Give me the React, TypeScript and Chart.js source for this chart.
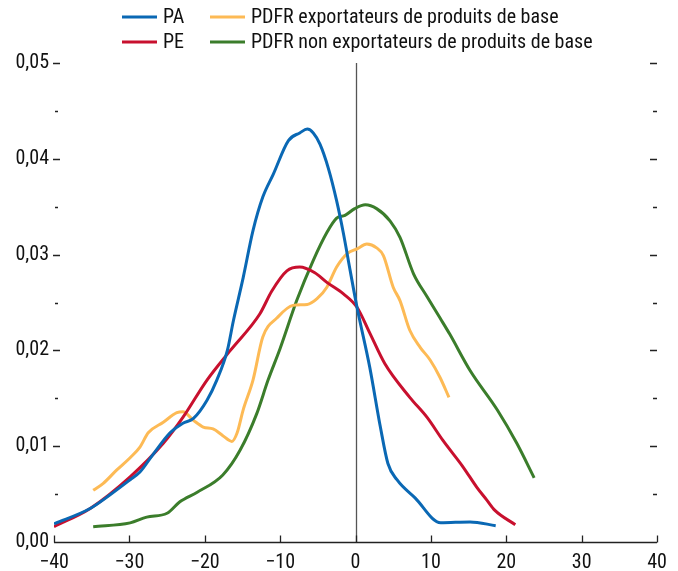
import React, { useEffect, useRef } from 'react';
import { Chart, registerables } from 'chart.js';

Chart.register(...registerables);

// ---- Data ----
const seriesLabels = ['PA', 'PE', 'PDFR exportateurs de produits de base', 'PDFR non exportateurs de produits de base'];
const seriesColors = ['#0A68B4', '#C8102E', '#FDBA55', '#3B7D2B'];

const paX = [-40, -35.2, -32.6, -29.9, -28.6, -26.9, -24.6, -22.9, -21.5, -19.7, -18.4, -17.0, -16.2, -14.9, -13.6, -12.3, -10.9, -8.9, -7.4, -6.4, -5.6, -4.7, -3.6, -2.5, -1.6, -0.7, 0.2, 1.9, 3.3, 4.3, 5.5, 7.9, 11.3, 15.2, 18.6];
const paY = [0.0019, 0.0035, 0.0049, 0.0065, 0.0073, 0.0091, 0.0114, 0.0124, 0.0129, 0.0148, 0.0169, 0.0200, 0.0231, 0.0276, 0.0325, 0.0360, 0.0384, 0.0419, 0.0427, 0.0431, 0.0427, 0.0415, 0.0390, 0.0356, 0.0322, 0.0283, 0.0245, 0.0182, 0.0120, 0.0082, 0.0065, 0.0046, 0.0020, 0.0021, 0.0017];

const peX = [-40, -35.2, -29.9, -25.5, -22.9, -19.7, -16.6, -12.7, -11.1, -9.1, -7.4, -5.4, -3.8, -1.6, 0.2, 1.9, 3.9, 7.2, 9.5, 11.6, 14.3, 16.1, 17.4, 18.5, 21.2];
const peY = [0.0016, 0.0035, 0.0068, 0.0103, 0.0130, 0.0169, 0.0200, 0.0238, 0.0262, 0.0283, 0.0287, 0.0281, 0.0271, 0.0259, 0.0245, 0.0218, 0.0186, 0.0151, 0.0130, 0.0106, 0.0078, 0.0057, 0.0044, 0.0033, 0.0018];

const expX = [-34.8, -33.5, -31.7, -29.9, -28.6, -27.5, -25.5, -23.7, -22.9, -21.5, -20.2, -18.9, -17.6, -16.4, -15.7, -14.9, -13.6, -12.3, -10.4, -8.3, -6.4, -5.1, -3.8, -2.5, -1.1, 0.2, 1.5, 2.8, 3.7, 5.0, 5.9, 7.2, 8.6, 9.9, 11.2, 12.4];
const expY = [0.0054, 0.0061, 0.0075, 0.0088, 0.0099, 0.0114, 0.0125, 0.0135, 0.0136, 0.0127, 0.0120, 0.0118, 0.0111, 0.0105, 0.0114, 0.0138, 0.0169, 0.0214, 0.0234, 0.0247, 0.0248, 0.0254, 0.0266, 0.0287, 0.0301, 0.0306, 0.0311, 0.0307, 0.0299, 0.0266, 0.0252, 0.0221, 0.0203, 0.0190, 0.0172, 0.0151];

const nonX = [-34.8, -29.9, -27.7, -25.0, -23.3, -21.0, -17.6, -15.3, -13.1, -11.6, -10.0, -7.8, -5.6, -3.8, -2.5, -1.4, -0.1, 1.3, 2.8, 4.6, 5.9, 7.7, 9.5, 11.2, 12.5, 15.2, 18.8, 21.4, 23.7];
const nonY = [0.0016, 0.0020, 0.0026, 0.0030, 0.0042, 0.0052, 0.0070, 0.0096, 0.0134, 0.0169, 0.0202, 0.0252, 0.0294, 0.0323, 0.0338, 0.0341, 0.0348, 0.0352, 0.0348, 0.0335, 0.0318, 0.0280, 0.0256, 0.0234, 0.0217, 0.0179, 0.0138, 0.0103, 0.0067];

const xTicks = [-40, -30, -20, -10, 0, 10, 20, 30, 40];
const yTicks = [0, 0.005, 0.01, 0.015, 0.02, 0.025, 0.03, 0.035, 0.04, 0.045, 0.05];

const FONT = "'Liberation Sans Narrow', 'Arial Narrow', 'Roboto Condensed', sans-serif";

const toPoints = (xs: number[], ys: number[]) => xs.map((x, i) => ({ x, y: ys[i] }));

const decorPlugin = {
  id: 'decor',
  beforeDatasetsDraw(chart: any) {
    const { ctx, chartArea } = chart;
    const xs = chart.scales.x;
    const ys = chart.scales.y;
    ctx.save();
    const x0 = Math.round(xs.getPixelForValue(0)) + 0.5;
    ctx.strokeStyle = '#555';
    ctx.lineWidth = 1.3;
    ctx.beginPath();
    ctx.moveTo(x0, chartArea.top);
    ctx.lineTo(x0, chartArea.bottom);
    ctx.stroke();
    ctx.strokeStyle = '#222';
    ctx.lineWidth = 1.3;
    yTicks.forEach((v) => {
      const major = Math.round(v * 1000) % 10 === 0;
      const y = Math.round(ys.getPixelForValue(v)) + 0.5;
      if (v === 0) return;
      ctx.beginPath();
      if (major) {
        ctx.moveTo(chartArea.left - 1, y);
        ctx.lineTo(chartArea.left + 6, y);
        ctx.moveTo(chartArea.right - 7, y);
        ctx.lineTo(chartArea.right, y);
      } else {
        ctx.moveTo(chartArea.left + 1, y);
        ctx.lineTo(chartArea.left + 4, y);
        ctx.moveTo(chartArea.right - 4, y);
        ctx.lineTo(chartArea.right, y);
      }
      ctx.stroke();
    });
    const yb = Math.round(chartArea.bottom) + 0.5;
    ctx.lineWidth = 1.5;
    ctx.beginPath();
    ctx.moveTo(chartArea.left, yb);
    ctx.lineTo(chartArea.right, yb);
    ctx.stroke();
    ctx.lineWidth = 1.3;
    xTicks.forEach((v) => {
      const x = Math.round(xs.getPixelForValue(v)) + 0.5;
      ctx.beginPath();
      ctx.moveTo(x, yb);
      ctx.lineTo(x, yb - 7);
      ctx.stroke();
    });
    ctx.restore();
  },
  afterDraw(chart: any) {
    const { ctx } = chart;
    ctx.save();
    const cols = [114, 202];
    const rows = [9, 34];
    const order = [
      { i: 0, c: 0, r: 0 },
      { i: 2, c: 1, r: 0 },
      { i: 1, c: 0, r: 1 },
      { i: 3, c: 1, r: 1 },
    ];
    ctx.font = `20px ${FONT}`;
    ctx.textBaseline = 'middle';
    ctx.fillStyle = '#111';
    order.forEach(({ i, c, r }) => {
      const ds = chart.data.datasets[i];
      const x = cols[c];
      const y = rows[r];
      ctx.strokeStyle = ds.borderColor;
      ctx.lineWidth = 3;
      ctx.beginPath();
      ctx.moveTo(x, y);
      ctx.lineTo(x + 35, y);
      ctx.stroke();
      ctx.fillText(ds.label, x + 41, y + 1);
    });
    ctx.restore();
  },
};

export default function App() {
  const ref = useRef<HTMLCanvasElement | null>(null);
  useEffect(() => {
    if (!ref.current) return;
    const datasets = [
      { label: seriesLabels[0], data: toPoints(paX, paY), borderColor: seriesColors[0] },
      { label: seriesLabels[1], data: toPoints(peX, peY), borderColor: seriesColors[1] },
      { label: seriesLabels[2], data: toPoints(expX, expY), borderColor: seriesColors[2] },
      { label: seriesLabels[3], data: toPoints(nonX, nonY), borderColor: seriesColors[3] },
    ].map((d) => ({
      ...d,
      backgroundColor: d.borderColor,
      borderWidth: 3,
      pointRadius: 0,
      showLine: true,
      fill: false,
      cubicInterpolationMode: 'monotone' as const,
    }));
    const chart = new Chart(ref.current, {
      type: 'scatter',
      data: { datasets },
      options: {
        animation: false,
        responsive: false,
        maintainAspectRatio: false,
        layout: { padding: { top: 55, right: 13, left: 0, bottom: 0 } },
        plugins: { legend: { display: false }, tooltip: { enabled: false } },
        scales: {
          x: {
            type: 'linear',
            min: -40,
            max: 40,
            afterBuildTicks: (s: any) => { s.ticks = xTicks.map((v) => ({ value: v })); },
            afterFit: (s: any) => { s.height = 29; s.paddingLeft = 0; s.paddingRight = 0; },
            grid: { display: false, drawTicks: false },
            border: { display: false },
            ticks: {
              padding: 9,
              color: '#111',
              font: { family: FONT, size: 20 },
              maxRotation: 0,
              autoSkip: false,
              callback: (v: any) => (Number(v) < 0 ? '\u2212' + Math.abs(Number(v)) : String(v)),
            },
          },
          y: {
            type: 'linear',
            min: 0,
            max: 0.05,
            afterBuildTicks: (s: any) => { s.ticks = yTicks.map((v) => ({ value: v })); },
            afterFit: (s: any) => { s.width = 46; s.paddingTop = 0; s.paddingBottom = 0; },
            grid: { display: false, drawTicks: false },
            border: { display: false },
            ticks: {
              padding: 5,
              color: '#111',
              font: { family: FONT, size: 20 },
              autoSkip: false,
              callback: (v: any) => {
                const n = Number(v);
                if (Math.round(n * 1000) % 10 !== 0) return '';
                return n.toFixed(2).replace('.', ',');
              },
            },
          },
        },
      },
      plugins: [decorPlugin],
    });
    return () => chart.destroy();
  }, []);
  return (
    <div style={{ width: 662, height: 563 }}>
      <canvas ref={ref} width={662} height={563} style={{ display: 'block', width: 662, height: 563 }} />
    </div>
  );
}
